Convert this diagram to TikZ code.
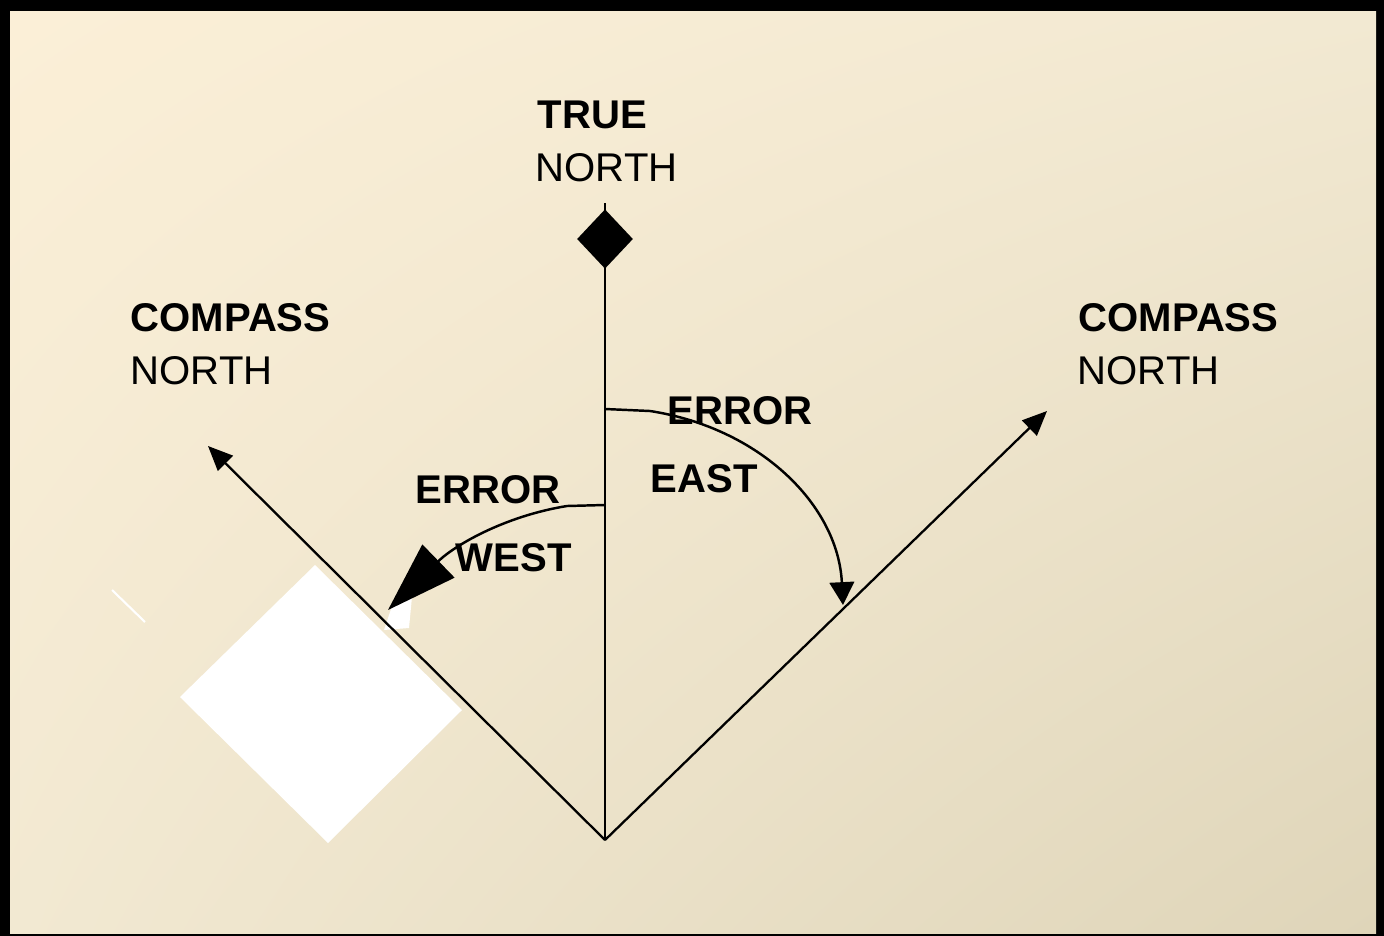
\documentclass[tikz,border=0pt]{standalone}
\usepackage{fontspec}
\setmainfont{Liberation Sans}
\usetikzlibrary{arrows.meta,shapes.geometric,shadings}
\definecolor{bgtl}{HTML}{FBEFD7}
\definecolor{bgmid}{HTML}{F2E9D2}
\definecolor{bgbr}{HTML}{DFD5B9}
\begin{document}
\begin{tikzpicture}[x=0.01cm,y=-0.01cm,
    lbl/.style={anchor=base west,inner sep=0pt,font=\fontsize{11.4}{13}\selectfont},
    lblb/.style={anchor=base west,inner sep=0pt,font=\fontsize{11.4}{13}\selectfont\bfseries},
    ray/.style={line width=0.65pt,-{Triangle[length=7pt,width=6pt]}},
    truemark/.style={diamond,fill=black,inner sep=0pt,minimum width=16pt,minimum height=17pt}]
  \useasboundingbox (0,0) rectangle (1384,936);
  \fill[black] (0,0) rectangle (1384,936);
  \shade[upper left=bgtl,lower right=bgbr,upper right=bgmid,lower left=bgmid]
    (10,11) rectangle (1376,933);
  % white patches
  \fill[white] (180,697) -- (315,565) -- (462,710) -- (328,843) -- cycle;
  \fill[white] (384,630) -- (394,600) -- (412,597) -- (409,628) -- cycle;
  \draw[white,line width=0.6pt] (112,590) -- (145,622);
  % points
  \coordinate (O) at (605,840);
  \coordinate (tntop) at (605,203);
  \coordinate (lcn) at (208,446);
  \coordinate (rcn) at (1047,411);
  \node[truemark] (tn) at (605,239) {};
  % lines
  \draw[line width=0.85pt] (O) -- (tntop);
  \draw[ray] (O) -- (lcn);
  \draw[ray] (O) -- (rcn);
  \coordinate (wst) at (605,505);
  \coordinate (est) at (605,409);
  \coordinate (wend) at (388,610);
  \coordinate (eend) at (843,605);
  \draw[line width=0.7pt,-{Triangle[length=20pt,width=13pt]}]
    (wst) -- (567,506) .. controls (505,516) and (455,545) .. (wend);
  \draw[line width=0.7pt,-{Triangle[length=6.5pt,width=7pt]}]
    (est) -- (650,411) .. controls (760,428) and (838,505) .. (eend);
  % labels
  \node[lblb] (t1) at (537,128) {TRUE};
  \node[lbl] (t2) at (535,181) {NORTH};
  \node[lblb] (l1) at (130,331) {COMPASS};
  \node[lbl] (l2) at (130,384) {NORTH};
  \node[lblb] (r1) at (1078,331) {COMPASS};
  \node[lbl] (r2) at (1077,384) {NORTH};
  \node[lblb] (we1) at (415,503) {ERROR};
  \node[lblb] (we2) at (455,571) {WEST};
  \node[lblb] (ea1) at (667,424) {ERROR};
  \node[lblb] (ea2) at (650,492) {EAST};
\end{tikzpicture}
\end{document}
